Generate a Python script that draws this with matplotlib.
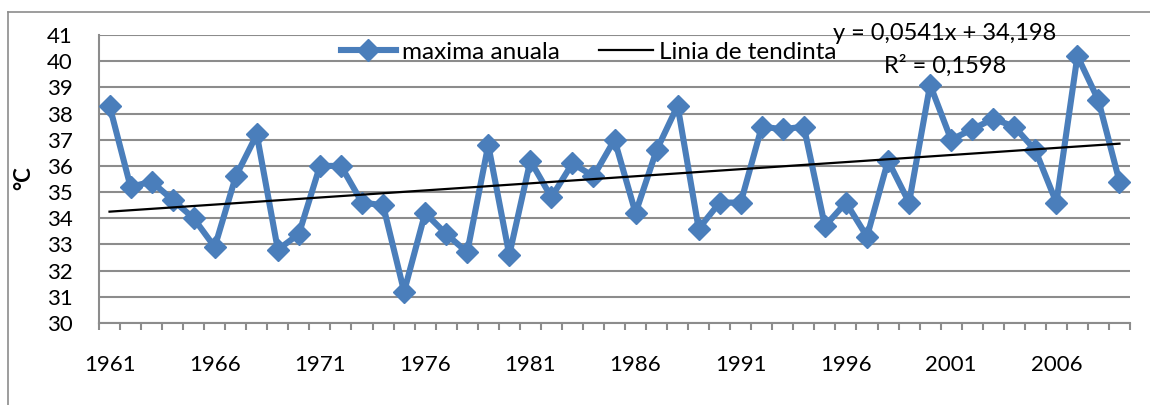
import numpy as np
import matplotlib
matplotlib.use("Agg")
import matplotlib.pyplot as plt
from matplotlib.lines import Line2D

plt.rcParams['font.family'] = ['Lato', 'DejaVu Sans']

years = list(range(1961, 2010))
tmax = [38.3, 35.2, 35.4, 34.7, 34.0, 32.9, 35.6, 37.2, 32.8, 33.4,
        36.0, 36.0, 34.6, 34.5, 31.2, 34.2, 33.4, 32.7, 36.8, 32.6,
        36.2, 34.8, 36.1, 35.6, 37.0, 34.2, 36.6, 38.3, 33.6, 34.6,
        34.6, 37.5, 37.4, 37.5, 33.7, 34.6, 33.3, 36.2, 34.6, 39.1,
        37.0, 37.4, 37.8, 37.5, 36.6, 34.6, 40.2, 38.5, 35.4]
label_years = years[::5]
eq_text = "y = 0,0541x + 34,198"
r2_text = "R² = 0,1598"

blue = "#4A7EBB"
grid_c = "#8C8C8C"

fig = plt.figure(figsize=(11.5, 4.05), dpi=100)
ax = fig.add_axes([99/1150, 1-323/405, (1130-99)/1150, (323-35)/405])

x = np.arange(len(years))
ax.plot(x, tmax, color=blue, lw=4.4, marker="D", ms=11, mec=blue, mfc=blue,
        label="maxima anuala", zorder=3)

# linear trend (Excel style, x = 1..n)
xi = x + 1
k, b = np.polyfit(xi, tmax, 1)
ax.plot(x, k*xi + b, color="black", lw=1.6, label="Linia de tendinta", zorder=4)

ax.set_xlim(-0.5, len(years) - 0.5)
ax.set_ylim(30, 41)
ax.set_yticks(range(30, 42))
ax.yaxis.grid(True, color=grid_c, lw=1.5)
ax.set_axisbelow(True)

ax.set_xticks([years.index(y) for y in label_years])
ax.set_xticklabels([str(y) for y in label_years])
ax.set_xticks(np.arange(-0.5, len(years)), minor=True)
ax.tick_params(axis="x", which="major", length=0, pad=23, labelsize=16, colors="black")
ax.tick_params(axis="x", which="minor", length=5, width=1.5, color=grid_c)
ax.tick_params(axis="y", length=0, pad=19, labelsize=16)

for s in ["top", "right"]:
    ax.spines[s].set_visible(False)
for s in ["left", "bottom"]:
    ax.spines[s].set_color(grid_c)
    ax.spines[s].set_linewidth(1.5)

fig.text(24/1150, 1-178/405, "°C", rotation=90, fontsize=16, fontweight="bold",
         ha="center", va="center")

ax.legend(loc="center", bbox_to_anchor=(589/1150, 1-52/405), bbox_transform=fig.transFigure,
          ncol=2, frameon=False, fontsize=17.5, handlelength=2.25, handletextpad=0.25,
          columnspacing=1.6, borderpad=0)

fig.text(945/1150, 1-33/405, eq_text, fontsize=17, ha="center", va="center")
fig.text(945/1150, 1-66/405, r2_text, fontsize=17, ha="center", va="center")

# outer chart border
fig.add_artist(Line2D([8/1150, 8/1150], [0, 1-12/405], color=grid_c, lw=1.2,
                      transform=fig.transFigure))
fig.add_artist(Line2D([8/1150, 1], [1-12/405, 1-12/405], color=grid_c, lw=1.2,
                      transform=fig.transFigure))

fig.savefig("out.png", dpi=100)
